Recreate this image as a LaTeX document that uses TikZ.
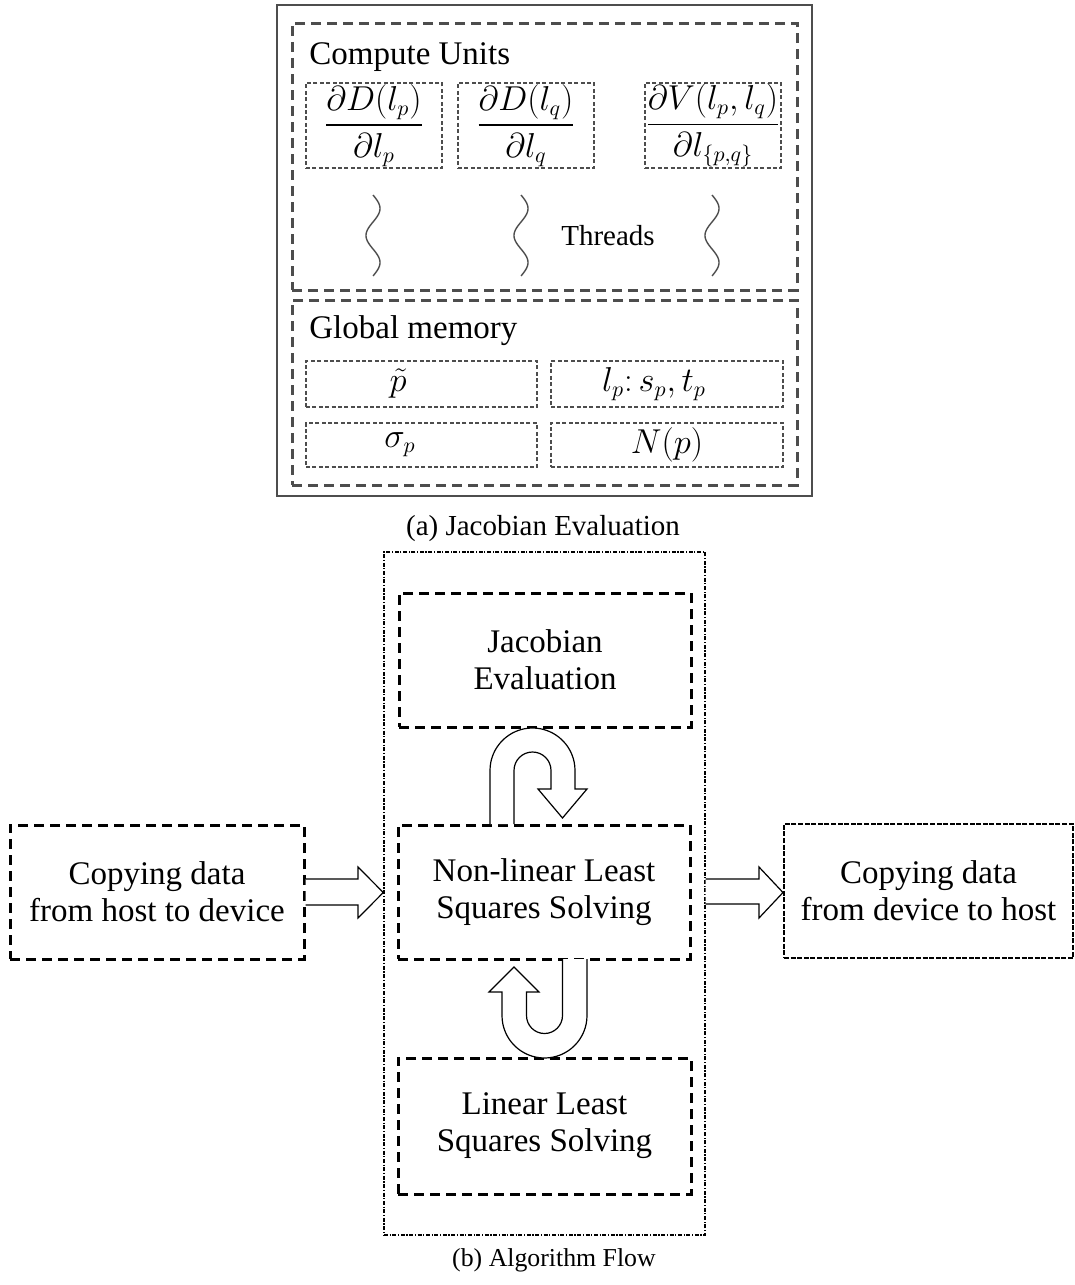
\documentclass[tikz,border=0pt]{standalone}
\usepackage{amsmath}
\usepackage{fontspec}
\setmainfont{Liberation Serif}
\usetikzlibrary{calc}
\definecolor{ga}{HTML}{4D4D4D}
\tikzset{
  outerbox/.style={draw=ga, line width=1pt, inner sep=0pt},
  secbox/.style={draw=ga, line width=1.5pt, dash pattern=on 5pt off 3pt, inner sep=0pt},
  cellbox/.style={draw=ga, line width=0.6pt, dash pattern=on 2pt off 1.2pt, inner sep=0pt},
  flowbox/.style={draw=black, line width=1.5pt, dash pattern=on 5pt off 3pt, inner sep=0pt, align=center, font=\fontsize{16.5}{18.5}\selectfont},
  hostbox/.style={draw=black, line width=1pt, dash pattern=on 2.5pt off 0.8pt, inner sep=0pt, align=center, font=\fontsize{16.5}{18.5}\selectfont},
  framebox/.style={draw=black, line width=0.7pt, dash pattern=on 2pt off 0.8pt on 0.6pt off 0.8pt, inner sep=0pt},
  blockarrow/.style={draw=black, line width=0.6pt, fill=white, line join=miter},
  headtext/.style={inner sep=0pt, font=\fontsize{16.5}{18.5}\selectfont},
  mathtext/.style={font=\fontsize{16}{19}\selectfont},
  squig/.style={draw=ga, line width=0.7pt},
}
\begin{document}
\begin{tikzpicture}[x=0.5pt,y=-0.5pt]
\useasboundingbox (0,0) rectangle (1075,1285);
% ---------- (a) Jacobian evaluation ----------
\node[outerbox, minimum width=267.5pt, minimum height=245.5pt] (outer) at (544.5,250.5) {};
\node[secbox, minimum width=252.5pt, minimum height=133.5pt] (cu) at (544.5,156.5) {};
\node[secbox, minimum width=252.5pt, minimum height=92.5pt] (gm) at (544.5,392.5) {};
\node[headtext, anchor=base west] (cut) at (309,64) {Compute Units};
\node[headtext, anchor=base west] (gmt) at (309,338) {Global memory};
\node[cellbox, minimum width=68pt, minimum height=42.5pt, mathtext] (f1) at (374,125.5) {$\displaystyle\frac{\partial D(l_p)}{\partial l_p}$};
\node[cellbox, minimum width=68pt, minimum height=42.5pt, mathtext] (f2) at (526,125.5) {$\displaystyle\frac{\partial D(l_q)}{\partial l_q}$};
\node[cellbox, minimum width=68pt, minimum height=42.5pt, mathtext] (f3) at (713,125.5) {$\displaystyle\frac{\partial V(l_p,l_q)}{\partial l_{\{p,q\}}}$};
\draw[squig] plot[domain=0:1,samples=60,smooth] ({373+7*sin(540*\x)},{195+81*\x});
\draw[squig] plot[domain=0:1,samples=60,smooth] ({521+7*sin(540*\x)},{195+81*\x});
\draw[squig] plot[domain=0:1,samples=60,smooth] ({712+7*sin(540*\x)},{195+81*\x});
\node[inner sep=0pt, font=\fontsize{14.5}{16}\selectfont] (thr) at (608,236) {Threads};
\node[cellbox, mathtext, minimum width=115.5pt, minimum height=23pt] (m1) at (421.5,384) {$\tilde{p}$\rule{23.5pt}{0pt}};
\node[cellbox, mathtext, minimum width=116pt, minimum height=23pt] (m2) at (667,384) {$l_p{:}\,s_p,t_p$\rule{13pt}{0pt}};
\node[cellbox, mathtext, minimum width=115.5pt, minimum height=22pt] (m3) at (421.5,445) {$\sigma_p$\rule{21.5pt}{0pt}};
\node[cellbox, mathtext, minimum width=116pt, minimum height=22pt] (m4) at (667,445) {$N(p)$};
\node[inner sep=0pt, font=\fontsize{14.5}{16}\selectfont] (capa) at (543,529) {(a) Jacobian Evaluation};
% ---------- (b) Algorithm flow ----------
\node[framebox, minimum width=160.5pt, minimum height=341.5pt] (frame) at (544.5,893.5) {};
\node[flowbox, minimum width=146pt, minimum height=67pt] (jac) at (545,660) {Jacobian\\Evaluation};
\node[flowbox, minimum width=146pt, minimum height=67pt] (nl) at (544,892) {Non-linear Least\\Squares Solving};
\node[flowbox, minimum width=146.5pt, minimum height=68pt] (lin) at (544.5,1126) {Linear Least\\Squares Solving};
\node[flowbox, minimum width=147pt, minimum height=67pt] (hd) at (157,892) {Copying data\\from host to device};
\node[hostbox, minimum width=144.5pt, minimum height=67pt] (dh) at (928.5,891) {Copying data\\from device to host};
% U-turn arrows
\draw[blockarrow] (490,824) -- (490,770.5) arc[start angle=180, end angle=360, radius=42.5]
  -- (575,789) -- (587,789) -- (562.5,818) -- (538,789) -- (551,789) -- (551,770.5)
  arc[start angle=0, end angle=-180, radius=18.5] -- (514,824);
\draw[blockarrow] (587,959) -- (587,1015.5) arc[start angle=0, end angle=180, radius=42.5]
  -- (502,992) -- (489,992) -- (514,967) -- (539,992) -- (526.5,992) -- (526.5,1015.5)
  arc[start angle=180, end angle=0, radius=18] -- (562.5,959);
% horizontal block arrows
\draw[blockarrow] (hd.east |- 0,879) -- (358,879) -- (358,867) -- (frame.west |- 0,892.5) -- (358,918) -- (358,905) -- (hd.east |- 0,905);
\draw[blockarrow] (frame.east |- 0,879) -- (759,879) -- (759,867) -- (dh.west |- 0,892.5) -- (759,918) -- (759,904) -- (frame.east |- 0,904);
\node[inner sep=0pt, font=\fontsize{12.9}{15}\selectfont] (capb) at (554,1260) {(b) Algorithm Flow};
\end{tikzpicture}
\end{document}
